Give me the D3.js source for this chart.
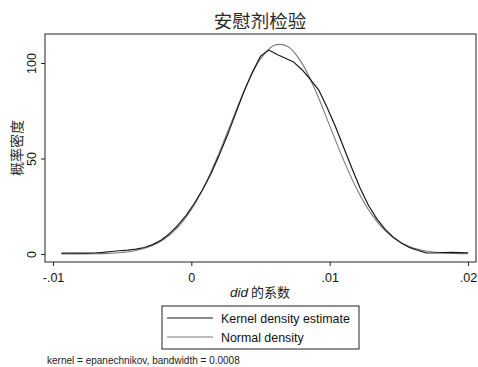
<!DOCTYPE html>
<html>
<head>
<meta charset="utf-8">
<script src="https://cdn.jsdelivr.net/npm/d3@7"></script>
<style>
  body { margin: 0; background: #fff; }
  svg { display: block; font-family: "Liberation Sans", Arial, sans-serif; }
</style>
</head>
<body>
<div class="chart-section"></div>
<script>
// kernel density estimate
const kernelX = [
  -0.0094, -0.0088, -0.0082, -0.0076, -0.007, -0.0064, -0.0058, -0.0052, -0.0046, -0.004,
  -0.0034, -0.0028, -0.0022, -0.0016, -0.001, -0.0004, 0.0002, 0.0008, 0.0014, 0.002,
  0.0026, 0.0032, 0.0038, 0.0044, 0.005, 0.0056, 0.0062, 0.0068, 0.0074, 0.008,
  0.0086, 0.0092, 0.0098, 0.0104, 0.011, 0.0116, 0.0122, 0.0128, 0.0134, 0.014,
  0.0146, 0.0152, 0.0158, 0.0164, 0.017, 0.0176, 0.0182, 0.0188, 0.0194, 0.02,
];
const kernelY = [
  0.4, 0.4, 0.4, 0.4, 0.5, 0.8, 1.3, 1.7, 2.0, 2.5,
  3.4, 4.9, 7.2, 10.5, 14.8, 20.0, 26.3, 33.5, 41.8, 51.5,
  62.0, 73.5, 85.0, 95.0, 103.5, 106.8, 104.5, 102.5, 100.5, 96.5,
  91.5, 86.0, 77.0, 67.0, 56.0, 45.0, 34.5, 25.5, 18.5, 13.0,
  8.8, 5.6, 3.3, 1.8, 0.6, 0.5, 0.7, 0.8, 0.7, 0.6,
];

// normal density
const normalX = [
  -0.0094, -0.008, -0.007, -0.006, -0.005, -0.004, -0.003, -0.002, -0.001, 0,
  0.001, 0.002, 0.003, 0.004, 0.005, 0.006, 0.007, 0.008, 0.009, 0.01,
  0.011, 0.012, 0.013, 0.014, 0.015, 0.016, 0.017, 0.018, 0.019, 0.02,
];
const normalY = [
  0.0, 0.05, 0.1, 0.3, 0.8, 1.8, 3.9, 7.6, 13.8, 23.3,
  36.4, 52.8, 70.9, 88.4, 102.1, 109.3, 108.5, 99.8, 85.1, 67.2,
  49.3, 33.5, 21.1, 12.3, 6.6, 3.3, 1.6, 0.7, 0.3, 0.1,
];

const xTicks = [-0.01, 0, 0.01, 0.02];
const xTickLabels = ["-.01", "0", ".01", ".02"];
const yTicks = [0, 50, 100];

const width = 478;
const height = 367;
const margin = { left: 45, right: 2, top: 34, bottom: 105 };

const svg = d3
  .select(".chart-section")
  .append("svg")
  .attr("width", width)
  .attr("height", height);

const x = d3
  .scaleLinear()
  .domain([-0.01058, 0.02058])
  .range([margin.left, width - margin.right]);
const y = d3
  .scaleLinear()
  .domain([-4.2, 115.2])
  .range([height - margin.bottom, margin.top]);

// title
svg
  .append("text")
  .attr("x", 260)
  .attr("y", 28)
  .attr("text-anchor", "middle")
  .attr("font-family", "'Noto Sans CJK SC', sans-serif")
  .attr("font-size", 18.5)
  .attr("fill", "#2a2a2a")
  .text("安慰剂检验");

// curves
const line = d3
  .line()
  .x((d) => x(d[0]))
  .y((d) => y(d[1]));

svg
  .append("path")
  .attr("fill", "none")
  .attr("stroke", "#7a7a7a")
  .attr("stroke-width", 1.1)
  .attr("d", line.curve(d3.curveCatmullRom)(normalX.map((v, i) => [v, normalY[i]])));

svg
  .append("path")
  .attr("fill", "none")
  .attr("stroke", "#1a1a1a")
  .attr("stroke-width", 1.2)
  .attr("stroke-linejoin", "round")
  .attr("d", line.curve(d3.curveLinear)(kernelX.map((v, i) => [v, kernelY[i]])));

// frame
svg
  .append("rect")
  .attr("x", margin.left)
  .attr("y", margin.top)
  .attr("width", width - margin.left - margin.right)
  .attr("height", height - margin.top - margin.bottom)
  .attr("fill", "none")
  .attr("stroke", "#222")
  .attr("stroke-width", 1);

// axes
const xAxis = d3
  .axisBottom(x)
  .tickValues(xTicks)
  .tickFormat((d, i) => xTickLabels[i])
  .tickSize(4)
  .tickSizeOuter(0)
  .tickPadding(7);

const gx = svg
  .append("g")
  .attr("transform", `translate(0,${height - margin.bottom})`)
  .call(xAxis);
gx.select(".domain").remove();
gx.selectAll("line").attr("stroke", "#222");
gx.selectAll("text").attr("font-size", 12.5).attr("fill", "#111");

const yAxis = d3.axisLeft(y).tickValues(yTicks).tickSize(4).tickSizeOuter(0);
const gy = svg
  .append("g")
  .attr("transform", `translate(${margin.left},0)`)
  .call(yAxis);
gy.select(".domain").remove();
gy.selectAll("line").attr("stroke", "#222");
gy.selectAll("text")
  .attr("font-size", 12.5)
  .attr("fill", "#111")
  .attr("x", 0)
  .attr("dy", 0)
  .attr("text-anchor", "middle")
  .attr("transform", "translate(-9,0) rotate(-90)");

// axis titles
svg
  .append("text")
  .attr("transform", `translate(22,${(margin.top + height - margin.bottom) / 2}) rotate(-90)`)
  .attr("text-anchor", "middle")
  .attr("font-family", "'Noto Sans CJK SC', sans-serif")
  .attr("font-size", 14)
  .attr("fill", "#2a2a2a")
  .text("概率密度");

const xt = svg
  .append("text")
  .attr("x", 260)
  .attr("y", 297)
  .attr("text-anchor", "middle")
  .attr("font-size", 13.5)
  .attr("fill", "#222");
xt.append("tspan").attr("font-style", "italic").text("did");
xt.append("tspan")
  .attr("font-family", "'Noto Sans CJK SC', sans-serif")
  .attr("font-size", 13)
  .text(" 的系数");

// legend
const legend = svg.append("g").attr("id", "legend");
legend
  .append("rect")
  .attr("x", 162)
  .attr("y", 306)
  .attr("width", 197)
  .attr("height", 43)
  .attr("fill", "none")
  .attr("stroke", "#222")
  .attr("stroke-width", 1);

const legendItems = [
  { label: "Kernel density estimate", color: "#1a1a1a", w: 1.2 },
  { label: "Normal density", color: "#7a7a7a", w: 1.1 },
];
legendItems.forEach((d, i) => {
  const ly = 318 + i * 19;
  legend
    .append("line")
    .attr("x1", 167)
    .attr("x2", 213)
    .attr("y1", ly)
    .attr("y2", ly)
    .attr("stroke", d.color)
    .attr("stroke-width", d.w);
  legend
    .append("text")
    .attr("x", 221)
    .attr("y", ly + 4.5)
    .attr("font-size", 12.4)
    .attr("fill", "#111")
    .text(d.label);
});

// note
svg
  .append("text")
  .attr("x", 47)
  .attr("y", 364)
  .attr("font-size", 10)
  .attr("fill", "#222")
  .text("kernel = epanechnikov, bandwidth = 0.0008");
</script>
</body>
</html>
